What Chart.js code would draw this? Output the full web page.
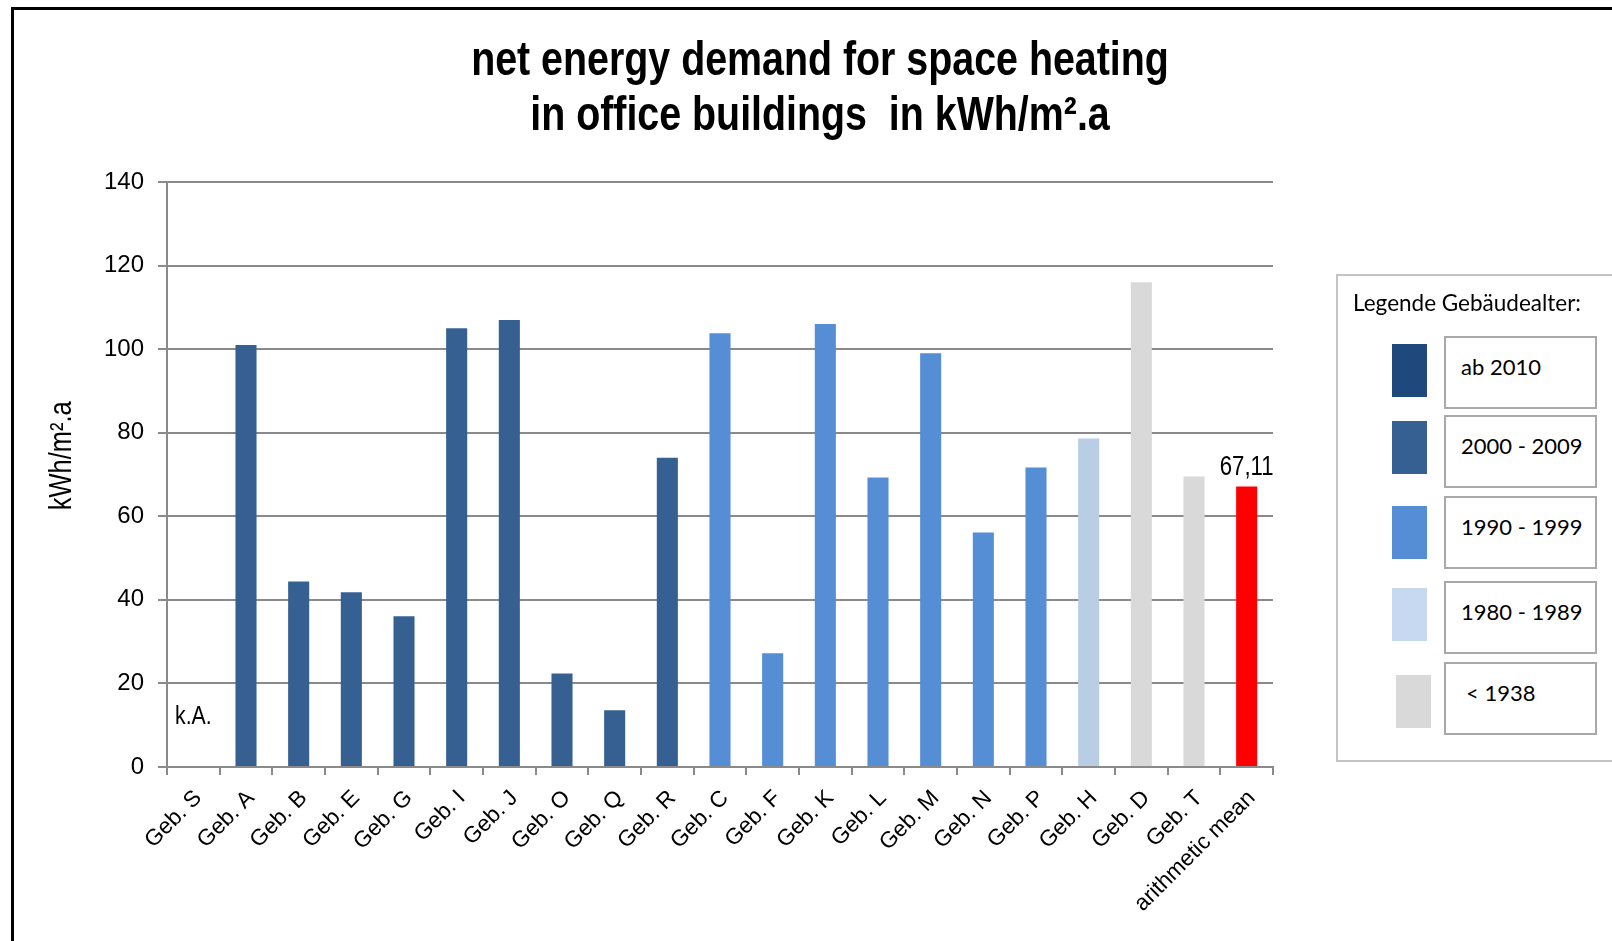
<!DOCTYPE html>
<html>
<head>
<meta charset="utf-8">
<title>net energy demand for space heating</title>
<script src="https://cdn.jsdelivr.net/npm/chart.js@4/dist/chart.umd.min.js"></script>
<style>
  html, body { margin: 0; padding: 0; background: #fff; }
  #wrap { position: relative; width: 1612px; height: 941px; overflow: hidden; }
  #frame { position: absolute; left: 11px; top: 7px; width: 1700px; height: 1000px;
           border-left: 3px solid #000; border-top: 3px solid #000; box-sizing: border-box; }
  #chart { position: absolute; left: 0; top: 0; }
  #title { position: absolute; left: 320px; top: 31px; width: 1000px; text-align: center;
           font-family: "Liberation Sans", Arial, sans-serif; font-weight: bold; font-size: 48px;
           line-height: 55px; color: #000; transform: scaleX(0.82); transform-origin: 500px 0;
           white-space: pre; }
  #legend { position: absolute; left: 1336px; top: 274px; width: 400px; height: 488px;
            border: 2px solid #c4c4c4; box-sizing: border-box;
            font-family: Lato, "Open Sans", sans-serif; color: #000; }
  #legend .head { position: absolute; left: 15px; top: 13px; font-size: 22.5px; white-space: nowrap; }
  #legend .swatch { position: absolute; width: 35px; height: 53px; }
  #legend .box { position: absolute; left: 106px; width: 153px; height: 73px;
                 border: 2px solid #a9a9a9; box-sizing: border-box; background: #fff; }
  #legend .box span { position: absolute; left: 15px; top: 15px; font-size: 22px; white-space: nowrap; }
</style>
</head>
<body>
<div id="wrap">
  <div id="frame"></div>
  <canvas id="chart" width="1612" height="941"></canvas>
  <div id="title"></div>
  <div id="legend"><div class="head">Legende Gebäudealter:</div></div>
</div>
<script>
// Buildings and their net energy demand for space heating (kWh/m².a)
const titleLines = ['net energy demand for space heating', 'in office buildings  in kWh/m².a'];
const categories = ['Geb. S', 'Geb. A', 'Geb. B', 'Geb. E', 'Geb. G', 'Geb. I', 'Geb. J', 'Geb. O', 'Geb. Q', 'Geb. R',
                    'Geb. C', 'Geb. F', 'Geb. K', 'Geb. L', 'Geb. M', 'Geb. N', 'Geb. P', 'Geb. H', 'Geb. D', 'Geb. T',
                    'arithmetic mean'];
const demand = [null, 101, 44.4, 41.8, 36.1, 105, 107, 22.4, 13.6, 74,
                103.8, 27.2, 106, 69.3, 99, 56.1, 71.7, 78.6, 116, 69.5,
                67.11];
// Construction period of each building
const ageGroup = ['2000 - 2009', '2000 - 2009', '2000 - 2009', '2000 - 2009', '2000 - 2009', '2000 - 2009', '2000 - 2009', '2000 - 2009', '2000 - 2009', '2000 - 2009',
                  '1990 - 1999', '1990 - 1999', '1990 - 1999', '1990 - 1999', '1990 - 1999', '1990 - 1999', '1990 - 1999', '1980 - 1989', '< 1938', '< 1938',
                  'mean'];
const barColors = {
  '2000 - 2009': '#366092',
  '1990 - 1999': '#558ED5',
  '1980 - 1989': '#B9CDE5',
  '< 1938': '#D9D9D9',
  'mean': '#FF0000'
};
// Legend of building age
const legendLabels = ['ab 2010', '2000 - 2009', '1990 - 1999', '1980 - 1989', '< 1938'];
const legendColors = ['#1F497D', '#376092', '#558ED5', '#C6D9F1', '#D9D9D9'];
const yTicks = [0, 20, 40, 60, 80, 100, 120, 140];
const yTitle = 'kWh/m².a';
const missingLabel = 'k.A.';
const missingLabelValue = 12;

document.getElementById('title').textContent = titleLines.join('\n');

// legend rows (top of swatch / top of text box, relative to the legend frame)
const swatchTops = [68, 145, 230, 312, 399];
const swatchLefts = [54, 54, 54, 54, 58];
const boxTops = [60, 139, 220, 305, 386];
const legend = document.getElementById('legend');
legendLabels.forEach((lbl, i) => {
  const sw = document.createElement('div');
  sw.className = 'swatch';
  sw.style.left = swatchLefts[i] + 'px';
  sw.style.top = swatchTops[i] + 'px';
  sw.style.background = legendColors[i];
  legend.appendChild(sw);
  const box = document.createElement('div');
  box.className = 'box';
  box.style.top = boxTops[i] + 'px';
  const t = document.createElement('span');
  t.textContent = lbl;
  if (i === 4) t.style.left = '20px';
  box.appendChild(t);
  legend.appendChild(box);
});

const SANS = '"Liberation Sans", Arial, sans-serif';
const GRID = '#8a8a8a';

// narrow text: Liberation Sans squeezed horizontally (optionally rotated)
function narrowText(ctx, text, x, y, size, rotation) {
  ctx.save();
  ctx.font = size + 'px ' + SANS;
  ctx.translate(x, y);
  if (rotation) ctx.rotate(rotation);
  ctx.scale(0.82, 1);
  ctx.fillText(text, 0, 0);
  ctx.restore();
}

// Axis title, "k.A." for the building without data and the mean value above its bar
const annotations = {
  id: 'annotations',
  afterDatasetsDraw(chart) {
    const { ctx, chartArea, scales: { x, y } } = chart;
    ctx.save();
    ctx.fillStyle = '#000';
    ctx.textAlign = 'center';
    ctx.textBaseline = 'middle';
    narrowText(ctx, yTitle, 62, chartArea.top + (chartArea.bottom - chartArea.top) * 0.468, 31, -Math.PI / 2);
    demand.forEach((v, i) => {
      if (v === null) narrowText(ctx, missingLabel, x.getPixelForValue(i), y.getPixelForValue(missingLabelValue), 26);
    });
    const last = demand.length - 1;
    const meanText = demand[last].toFixed(2).replace('.', ',');
    ctx.textBaseline = 'alphabetic';
    narrowText(ctx, meanText, x.getPixelForValue(last), y.getPixelForValue(demand[last]) - 12, 27);
    ctx.restore();
  }
};

new Chart(document.getElementById('chart'), {
  type: 'bar',
  data: {
    labels: categories,
    datasets: [{
      data: demand,
      backgroundColor: ageGroup.map(g => barColors[g]),
      barPercentage: 0.4,
      categoryPercentage: 1.0
    }]
  },
  options: {
    responsive: false,
    animation: false,
    layout: { padding: { left: 0, right: 339, top: 182, bottom: 0 } },
    plugins: {
      legend: { display: false },
      tooltip: { enabled: false },
      title: { display: false }
    },
    scales: {
      x: {
        grid: { display: true, drawOnChartArea: false, drawTicks: true, tickLength: 8, color: GRID, lineWidth: 2, offset: true },
        border: { display: true, color: GRID, width: 2 },
        ticks: {
          autoSkip: false, minRotation: 45, maxRotation: 45, padding: 10, labelOffset: 5,
          color: '#000', font: { family: SANS, size: 22.5 }
        },
        afterFit(scale) { scale.height = 174; }
      },
      y: {
        min: 0, max: 140,
        afterBuildTicks(scale) { scale.ticks = yTicks.map(v => ({ value: v })); },
        grid: { color: GRID, lineWidth: 2, tickLength: 9 },
        border: { display: true, color: GRID, width: 2 },
        ticks: { color: '#000', padding: 14, font: { family: SANS, size: 24 } },
        title: { display: false },
        afterFit(scale) { scale.width = 167; }
      }
    }
  },
  plugins: [annotations]
});
</script>
</body>
</html>
